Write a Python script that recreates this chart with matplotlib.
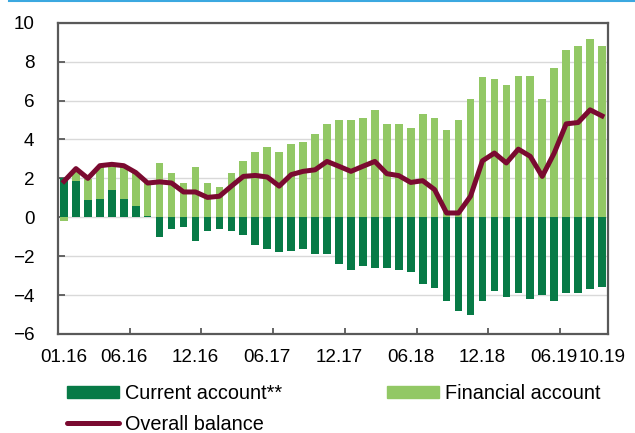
import numpy as np
import matplotlib
matplotlib.use("Agg")
import matplotlib.pyplot as plt
from matplotlib.patches import Patch
from matplotlib.lines import Line2D

plt.rcParams["font.family"] = ["Liberation Sans", "DejaVu Sans"]

# Mesi da 01.16 a 10.19
months = [f"{m:02d}.{y}" for y in (16, 17, 18, 19) for m in range(1, 13)][:46]
tick_labels = ["01.16", "06.16", "12.16", "06.17", "12.17", "06.18", "12.18", "06.19", "10.19"]

current_account = [2.0, 1.88, 0.87, 0.96, 1.38, 0.96, 0.56, 0.09, -1.0, -0.62,
                   -0.51, -1.21, -0.70, -0.62, -0.70, -0.90, -1.42, -1.61, -1.81, -1.71,
                   -1.61, -1.90, -1.90, -2.41, -2.72, -2.51, -2.62, -2.62, -2.72, -2.82,
                   -3.42, -3.62, -4.32, -4.82, -5.0, -4.32, -3.81, -4.10, -3.91, -4.20,
                   -4.02, -4.32, -3.91, -3.91, -3.71, -3.61]
financial_account = [-0.2, 0.62, 1.1, 1.68, 1.36, 1.7, 1.72, 1.67, 2.79, 2.27,
                     1.78, 2.58, 1.78, 1.56, 2.27, 2.89, 3.38, 3.59, 3.38, 3.78,
                     3.88, 4.29, 4.79, 4.99, 4.99, 5.09, 5.49, 4.79, 4.79, 4.60,
                     5.30, 5.09, 4.50, 4.99, 6.09, 7.20, 7.09, 6.79, 7.28, 7.28,
                     6.09, 7.68, 8.58, 8.79, 9.18, 8.79]
overall_balance = [1.85, 2.5, 2.0, 2.65, 2.72, 2.65, 2.3, 1.76, 1.82, 1.76,
                   1.3, 1.3, 1.02, 1.08, 1.6, 2.1, 2.15, 2.07, 1.6, 2.19,
                   2.36, 2.44, 2.87, 2.62, 2.36, 2.62, 2.87, 2.24, 2.14, 1.79,
                   1.88, 1.42, 0.22, 0.22, 1.08, 2.9, 3.3, 2.79, 3.5, 3.13,
                   2.1, 3.3, 4.8, 4.87, 5.52, 5.21]

c_ca = "#077A46"
c_fa = "#92C865"
c_line = "#7A0A30"

ca = np.array(current_account)
fa = np.array(financial_account)
x = np.arange(len(months))
# stack come in Excel: positivi sopra positivi, negativi sotto negativi
fa_base = np.where((fa >= 0) & (ca > 0), ca, 0.0)
fa_base = np.where((fa < 0) & (ca < 0), ca, fa_base)

fig = plt.figure(figsize=(6.35, 4.33), dpi=100)
ax = fig.add_axes([58 / 635, 1 - 334 / 433, 550 / 635, (334 - 22.7) / 433])

ax.bar(x, ca, width=0.64, color=c_ca, zorder=2)
ax.bar(x, fa, bottom=fa_base, width=0.64, color=c_fa, zorder=2)
ax.plot(x, overall_balance, color=c_line, lw=3.6, zorder=3, solid_joinstyle="round")

ax.set_xlim(-0.5, len(months) - 0.5)
ax.set_ylim(-6, 10)
ax.set_yticks(np.arange(-6, 11, 2))
ax.grid(axis="y", color="#d9d9d9", lw=1, zorder=0)

ax.set_xticks([months.index(m) for m in tick_labels])
ax.set_xticklabels(tick_labels)
ax.set_xticks(np.arange(5.5, len(months) - 1, 6), minor=True)
ax.tick_params(axis="x", which="major", length=0, pad=11, labelsize=13.6)
ax.tick_params(axis="x", which="minor", direction="in", length=4, width=1.3, color="#595959")
ax.tick_params(axis="y", direction="in", length=5, width=1.3, color="#595959", pad=17, labelsize=13.6)

for s in ax.spines.values():
    s.set_color("#595959")
    s.set_linewidth(1.6)

# linea blu in alto
fig.add_artist(Line2D([9 / 635, 1], [1 - 0.8 / 433, 1 - 0.8 / 433], color="#3BA8E0", lw=1.5))

handles = [Patch(color=c_ca), Line2D([0], [0], color=c_line, lw=3.6, solid_capstyle="round"), Patch(color=c_fa)]
labels = ["Current account**", "Overall balance", "Financial account"]
fig.legend(handles, labels, ncol=2, loc="upper left", bbox_to_anchor=(67 / 635, 1 - 384 / 433),
           frameon=False, fontsize=14.3, handlelength=2.6, handleheight=0.55, handletextpad=0.3,
           borderpad=0, borderaxespad=0, labelspacing=0.6, columnspacing=5.3)

plt.savefig("out.png", dpi=100)
plt.close()
